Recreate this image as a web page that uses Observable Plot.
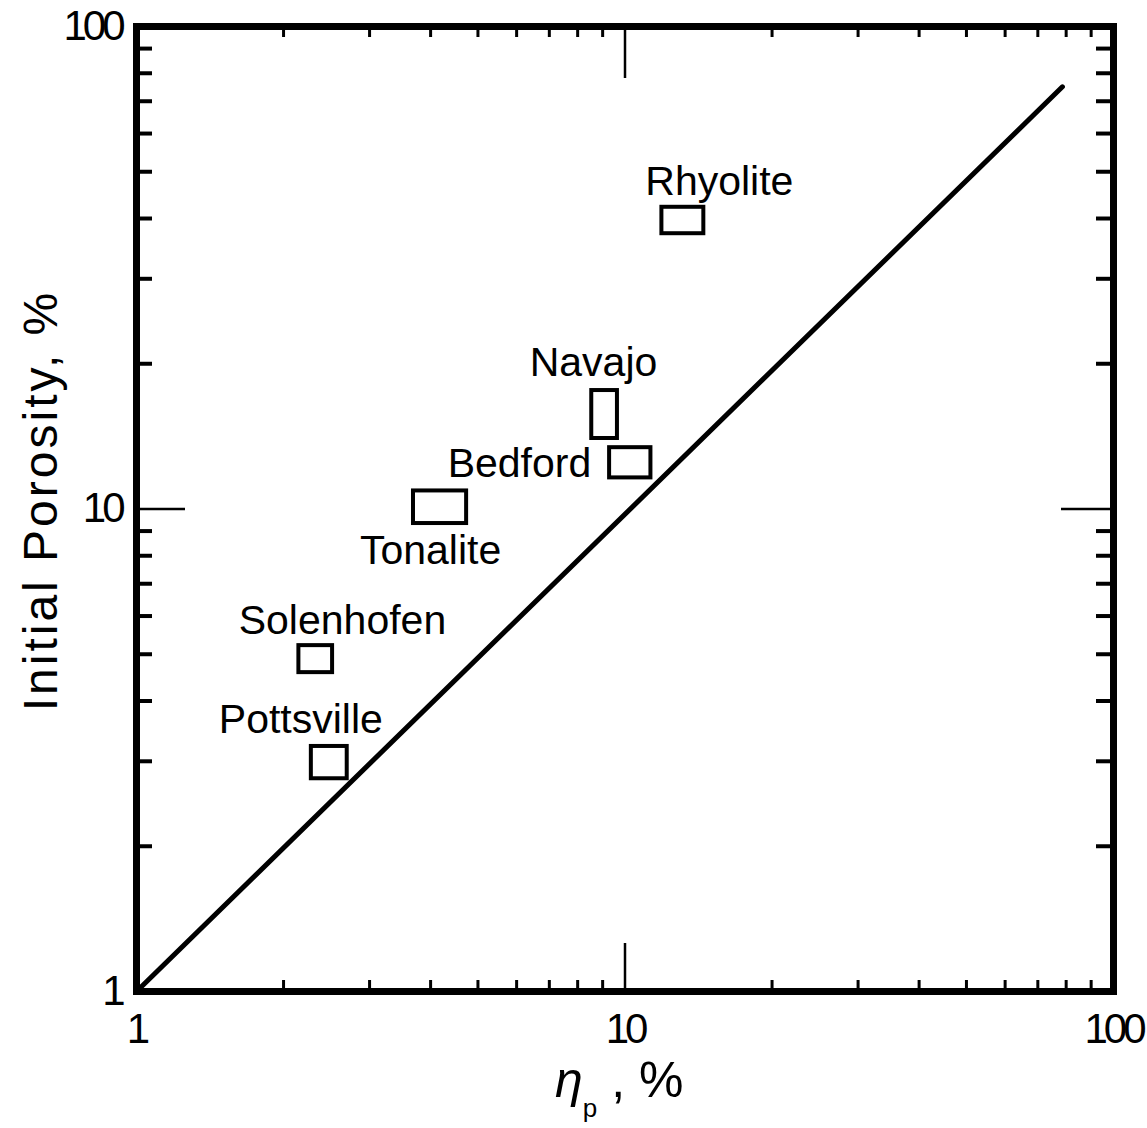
<!DOCTYPE html>
<html><head><meta charset="utf-8">
<script src="https://cdn.jsdelivr.net/npm/d3@7"></script>
<script src="https://cdn.jsdelivr.net/npm/@observablehq/plot@0.6"></script>
<style>
body{margin:0;background:#fff}
#chart{width:1147px;height:1128px}
</style>
</head><body><div id="chart"></div>
<script>
// ---- data ----
const rocks  = ["Rhyolite", "Navajo", "Bedford", "Tonalite", "Solenhofen", "Pottsville"];
const boxX1  = [11.9, 8.55, 9.30, 3.69, 2.15, 2.28];
const boxX2  = [14.5, 9.65, 11.3, 4.74, 2.52, 2.70];
const boxY1  = [37.2, 14.0, 11.6, 9.33, 4.58, 2.76];
const boxY2  = [42.2, 17.6, 13.4, 10.9, 5.21, 3.22];
const labelX = [15.6, 8.62, 6.08, 4.00, 2.64, 2.17];
const labelY = [47.7, 20.1, 12.4, 8.20, 5.87, 3.65];
const lineX  = [1, 78.6];
const lineY  = [1, 75];
const xMajor = [10];
const xMinor = [2, 3, 4, 5, 6, 7, 8, 9, 20, 30, 40, 50, 60, 70, 80, 90];
const yMajor = [10];
const yMinor = [2, 3, 4, 5, 6, 7, 8, 9, 20, 30, 40, 50, 60, 70, 80, 90];
const tickValues = [1, 10, 100];
const xTitle = ["η", "p", " , %"];
const yTitle = "Initial Porosity, %";

// ---- layout ----
const W = 1147, H = 1128;
const mL = 136, mR = 34, mT = 26, mB = 137;
const iw = W - mL - mR, ih = H - mT - mB;
const FONT = "Liberation Sans, Arial, sans-serif";

const boxes = rocks.map((r, i) => ({r, x1: boxX1[i], x2: boxX2[i], y1: boxY1[i], y2: boxY2[i]}));
const labels = rocks.map((r, i) => ({r, x: labelX[i], y: labelY[i]}));
const line = lineX.map((x, i) => ({x, y: lineY[i]}));

const chart = Plot.plot({
  width: W, height: H,
  marginLeft: mL, marginRight: mR, marginTop: mT, marginBottom: mB,
  style: {fontFamily: FONT, background: "white", color: "black"},
  x: {type: "log", domain: [1, 100]},
  y: {type: "log", domain: [1, 100]},
  marks: [
    // inward ticks
    Plot.tickX(xMinor, {x: d => d, insetTop: ih - 11, strokeWidth: 3}),
    Plot.tickX(xMinor, {x: d => d, insetBottom: ih - 11, strokeWidth: 3}),
    Plot.tickX(xMajor, {x: d => d, insetTop: ih - 48, strokeWidth: 2.5}),
    Plot.tickX(xMajor, {x: d => d, insetBottom: ih - 52, strokeWidth: 2.5}),
    Plot.tickY(yMinor, {y: d => d, insetRight: iw - 16, strokeWidth: 4}),
    Plot.tickY(yMinor, {y: d => d, insetLeft: iw - 17, strokeWidth: 4}),
    Plot.tickY(yMajor, {y: d => d, insetRight: iw - 49, strokeWidth: 2.5}),
    Plot.tickY(yMajor, {y: d => d, insetLeft: iw - 52, strokeWidth: 2.5}),
    // diagonal line
    Plot.line(line, {x: "x", y: "y", stroke: "black", strokeWidth: 5, strokeLinecap: "round"}),
    // boxes
    Plot.rect(boxes, {x1: "x1", x2: "x2", y1: "y1", y2: "y2", fill: "none", stroke: "black", strokeWidth: 4}),
    // labels
    Plot.text(labels, {x: "x", y: "y", text: "r", fontSize: 41, textAnchor: "middle", fill: "black"}),
    // axes
    Plot.axisX(tickValues, {anchor: "bottom", tickSize: 0, tickPadding: 22, tickFormat: d => String(d), fontSize: 42, label: null}),
    Plot.axisY(tickValues, {anchor: "left", tickSize: 0, tickPadding: 15, tickFormat: d => String(d), fontSize: 42, label: null}),
    Plot.frame({stroke: "black", strokeWidth: 7})
  ]
});

const svg = d3.select(chart);
// narrower digits, like the reference lettering
svg.selectAll('g[aria-label="x-axis tick label"] text, g[aria-label="y-axis tick label"] text')
  .attr("letter-spacing", -4);
// y title
svg.append("text")
  .attr("transform", `translate(40, ${mT + ih / 2 - 8}) rotate(-90)`)
  .attr("text-anchor", "middle")
  .attr("dominant-baseline", "central")
  .attr("font-family", FONT)
  .attr("font-size", 48)
  .attr("letter-spacing", 3)
  .attr("fill", "black")
  .text(yTitle);
// x title with subscript
const xt = svg.append("text")
  .attr("x", 555).attr("y", 1097)
  .attr("text-anchor", "start")
  .attr("font-family", FONT)
  .attr("font-size", 50)
  .attr("fill", "black");
xt.append("tspan").attr("font-style", "italic").text(xTitle[0]);
xt.append("tspan").attr("font-size", 26).attr("dy", 20).text(xTitle[1]);
xt.append("tspan").attr("dy", -20).text(xTitle[2]);

document.getElementById("chart").appendChild(chart);
</script>
</body></html>
